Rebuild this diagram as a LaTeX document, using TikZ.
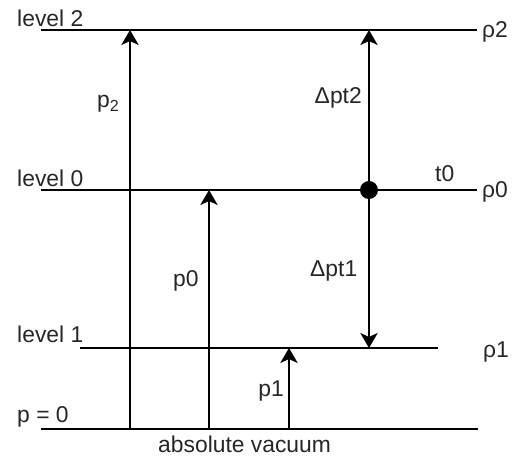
\documentclass[tikz,border=0pt]{standalone}
\usepackage{fontspec}
\setmainfont{Liberation Sans}
\usetikzlibrary{arrows.meta}

\begin{document}
\begin{tikzpicture}[
    x=0.03cm, y=-0.03cm,
    level/.style={draw=black, line width=2pt},
    sublevel/.style={draw=black, line width=1.4pt},
    arr/.style={draw=black, line width=1.6pt, -{Stealth[length=4.5mm, width=5.2mm, inset=1.2mm]}},
    lbl/.style={font=\fontsize{19.5}{22}\selectfont, inner sep=0pt, text=black!85},
    dot/.style={circle, fill=black, inner sep=0pt, minimum size=0.54cm}
]
    \useasboundingbox (0,0) rectangle (518,459);

    % Levels
    \coordinate (L2a) at (41,30);   \coordinate (L2b) at (477,30);
    \coordinate (L0a) at (41,190);  \coordinate (L0b) at (477,190);
    \coordinate (L1a) at (80,348);  \coordinate (L1b) at (438,348);
    \coordinate (Zra) at (41,429);  \coordinate (Zrb) at (478,429);
    \draw[level] (L2a) -- (L2b);
    \draw[level] (L0a) -- (L0b);
    \draw[sublevel] (L1a) -- (L1b);
    \draw[level] (Zra) -- (Zrb);

    % Reference point
    \node[dot] (T0) at (369,190) {};

    % Arrow ends
    \coordinate (B2) at (130,429);  \coordinate (E2) at (130,30);
    \coordinate (B0) at (209,429);  \coordinate (E0) at (209,190);
    \coordinate (B1) at (289,429);  \coordinate (E1) at (289,348);
    \coordinate (D2) at (369,30);   \coordinate (D1) at (369,348);

    % Pressures
    \draw[arr] (B2) -- (E2);
    \draw[arr] (B0) -- (E0);
    \draw[arr] (B1) -- (E1);
    \draw[arr] (T0.center) -- (D2);
    \draw[arr] (T0.center) -- (D1);

    % Labels
    \node[lbl, anchor=base west] (lev2) at (17,27) {level 2};
    \node[lbl, anchor=base west] (lev0) at (17,187) {level 0};
    \node[lbl, anchor=base west] (lev1) at (17,343) {level 1};
    \node[lbl, anchor=base west] (pzero) at (17,423) {p = 0};
    \node[lbl, anchor=base west] (vac) at (158,453) {absolute vacuum};
    \node[lbl, anchor=base west] (lp2) at (97,108) {p\textsubscript{2}};
    \node[lbl, anchor=base west] (lp0) at (173,287) {p0};
    \node[lbl, anchor=base east] (lp1) at (284,397) {p1};
    \node[lbl, anchor=base east] (ld2) at (362,104) {Δpt2};
    \node[lbl, anchor=base west] (ld1) at (310,277) {Δpt1};
    \node[lbl, anchor=base west] (lt0) at (435,182) {t0};
    \node[lbl, anchor=base west] (rho2) at (482,38) {ρ2};
    \node[lbl, anchor=base west] (rho0) at (482,198) {ρ0};
    \node[lbl, anchor=base west] (rho1) at (483,358) {ρ1};
\end{tikzpicture}
\end{document}
